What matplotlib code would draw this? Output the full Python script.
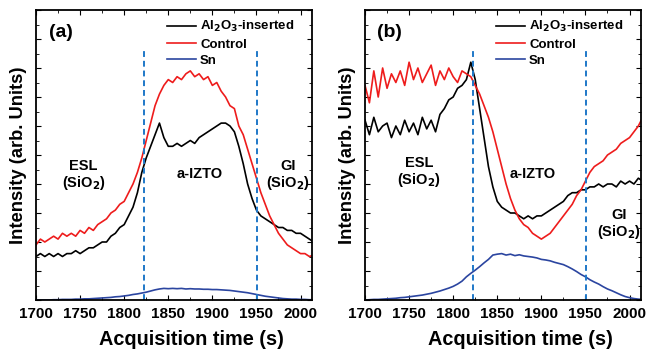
import numpy as np
import matplotlib
matplotlib.use("Agg")
import matplotlib.pyplot as plt
from matplotlib.ticker import MultipleLocator

plt.rcParams['font.family'] = ['Liberation Sans', 'DejaVu Sans']
plt.rcParams['font.weight'] = 'bold'

# acquisition time, 5 s steps
time_s = np.arange(1700, 2016, 5)

# panel (a)
a_control = [.19, .21, .20, .21, .22, .21, .23, .22,
             .23, .22, .24, .23, .25, .24, .26, .27,
             .28, .30, .31, .33, .34, .37, .40, .44,
             .49, .55, .61, .67, .71, .74, .76, .75,
             .77, .76, .78, .79, .77, .78, .76, .77,
             .74, .75, .72, .70, .67, .66, .60, .57,
             .52, .47, .42, .37, .33, .29, .26, .23,
             .21, .19, .18, .17, .16, .16, .15, .155]
a_al2o3 = [.15, .16, .15, .16, .15, .16, .15, .16,
           .16, .17, .16, .17, .18, .18, .19, .20,
           .20, .22, .23, .25, .26, .29, .32, .37,
           .44, .49, .53, .57, .61, .56, .53, .53,
           .54, .53, .54, .55, .54, .56, .57, .58,
           .59, .60, .61, .61, .60, .58, .53, .47,
           .40, .35, .31, .29, .28, .27, .26, .25,
           .25, .24, .24, .23, .23, .22, .21, .20]
a_sn = [0, 0, 0, 0, .001, .001, .002, .002,
        .002, .003, .003, .004, .004, .005, .006, .007,
        .008, .009, .011, .012, .014, .016, .019, .021,
        .024, .027, .031, .035, .038, .040, .039, .040,
        .039, .040, .038, .039, .038, .038, .037, .037,
        .036, .036, .035, .034, .033, .031, .029, .027,
        .025, .022, .019, .016, .013, .011, .009, .007,
        .005, .004, .003, .003, .002, .002, .001, .001]

# panel (b)
b_control = [.74, .68, .79, .70, .80, .73, .78, .75,
             .79, .74, .82, .76, .80, .75, .78, .81,
             .74, .79, .76, .80, .77, .75, .79, .78,
             .77, .74, .71, .67, .63, .58, .52, .46,
             .40, .35, .31, .28, .26, .25, .23, .22,
             .21, .22, .23, .25, .27, .29, .31, .33,
             .36, .38, .41, .44, .46, .47, .48, .50,
             .51, .52, .54, .55, .56, .58, .60, .63]
b_al2o3 = [.62, .57, .63, .58, .60, .61, .56, .60,
           .57, .62, .58, .61, .57, .63, .59, .62,
           .58, .64, .66, .69, .70, .73, .74, .76,
           .82, .76, .66, .56, .46, .39, .34, .32,
           .31, .30, .30, .29, .28, .29, .28, .29,
           .29, .30, .31, .32, .33, .34, .36, .37,
           .37, .38, .38, .39, .39, .40, .39, .40,
           .40, .39, .41, .40, .41, .40, .42, .41]
b_sn = [0, .001, .002, .002, .003, .004, .005, .006,
        .008, .009, .011, .013, .015, .017, .020, .023,
        .027, .031, .036, .041, .047, .055, .065, .080,
        .092, .103, .115, .128, .140, .155, .158, .160,
        .155, .158, .153, .156, .152, .150, .148, .145,
        .140, .138, .135, .130, .126, .122, .115, .107,
        .098, .088, .080, .070, .062, .055, .046, .038,
        .032, .025, .018, .012, .008, .005, .003, .002]

boundaries = [1823, 1951]

panels = [
    ("(a)", a_al2o3, a_control, a_sn,
     [(1754, 0.43, "ESL\n(SiO$_\\mathbf{2}$)"), (1886, 0.435, "a-IZTO"), (1986, 0.43, "GI\n(SiO$_\\mathbf{2}$)")]),
    ("(b)", b_al2o3, b_control, b_sn,
     [(1761, 0.44, "ESL\n(SiO$_\\mathbf{2}$)"), (1890, 0.435, "a-IZTO"), (1988, 0.26, "GI\n(SiO$_\\mathbf{2}$)")]),
]

fig = plt.figure(figsize=(6.47, 3.52), dpi=100)
lefts = [36 / 647, 365 / 647]

for left, (tag, al, ctrl, sn, notes) in zip(lefts, panels):
    ax = fig.add_axes([left, 52 / 352, 276 / 647, 290 / 352])
    ax.plot(time_s, al, color='black', lw=1.2, label='Al$_\\mathbf{2}$O$_\\mathbf{3}$-inserted')
    ax.plot(time_s, ctrl, color='#ee1c1c', lw=1.2, label='Control')
    ax.plot(time_s, sn, color='#2b45a0', lw=1.2, label='Sn')
    for b in boundaries:
        ax.axvline(b, ymax=0.865, color='#1f78c8', ls=(0, (3, 2)), lw=1.4)
    for x, y, t in notes:
        ax.text(x, y, t, ha='center', va='center', fontsize=10.5, fontweight='bold',
                linespacing=1.1)
    ax.text(0.09, 0.922, tag, transform=ax.transAxes, ha='center', va='center',
            fontsize=14, fontweight='bold')
    ax.set_xlim(1700, 2013)
    ax.set_ylim(0, 1)
    ax.minorticks_on()
    ax.xaxis.set_major_locator(MultipleLocator(50))
    ax.xaxis.set_minor_locator(MultipleLocator(25))
    ax.yaxis.set_major_locator(MultipleLocator(0.1))
    ax.yaxis.set_minor_locator(MultipleLocator(0.05))
    ax.tick_params(which='both', direction='in', top=True, right=True, labelsize=11)
    ax.tick_params(which='major', length=3.5, pad=5)
    ax.tick_params(which='minor', length=2)
    ax.set_yticklabels([])
    for s in ax.spines.values():
        s.set_linewidth(1.3)
    ax.set_xlabel('Acquisition time (s)', fontsize=14.3, fontweight='bold')
    ax.xaxis.label.set_va('center')
    ax.xaxis.set_label_coords(0.564, -0.135)
    ax.set_ylabel('Intensity (arb. Units)', fontsize=13.2, fontweight='bold')
    ax.yaxis.label.set_va('center')
    ax.yaxis.set_label_coords(-0.064, 0.5)
    ax.legend(loc='upper right', bbox_to_anchor=(0.965, 0.995), frameon=False, fontsize=9.5,
              handlelength=2.2, handletextpad=0.3, labelspacing=0.3, borderaxespad=0.2)

fig.savefig('out.png', dpi=100)
